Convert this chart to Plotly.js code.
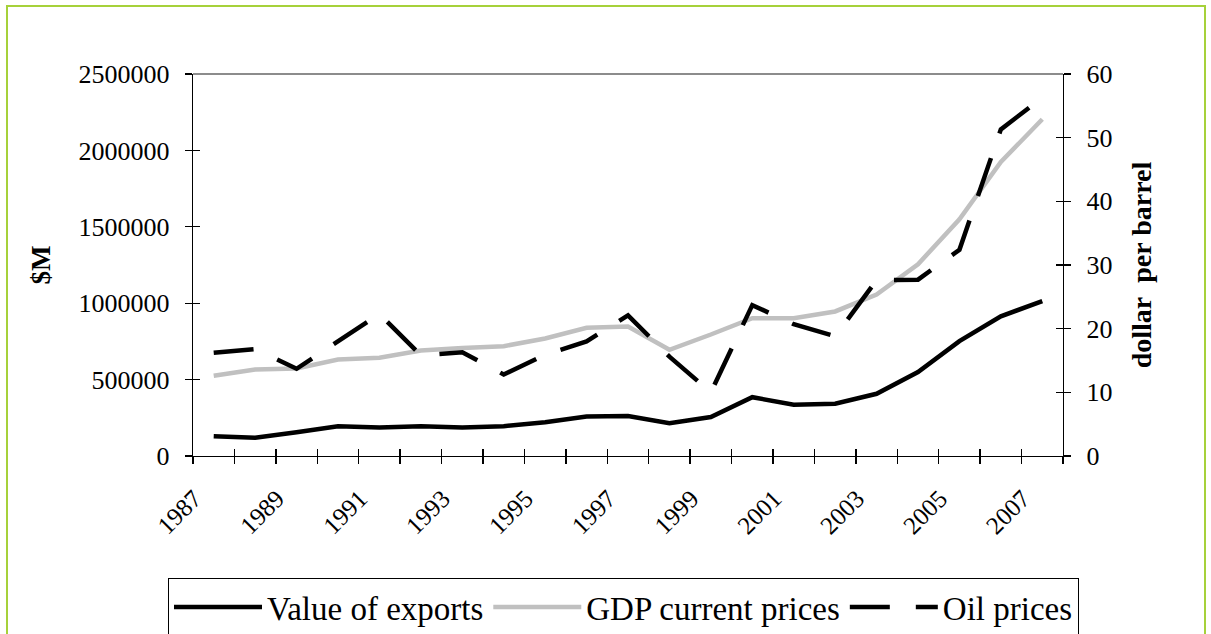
<!DOCTYPE html>
<html><head><meta charset="utf-8">
<script src="https://cdn.plot.ly/plotly-3.0.1.min.js"></script>
<style>
html,body{margin:0;padding:0;background:#fff;overflow:hidden;width:1211px;height:634px;}
#chart{position:absolute;left:0;top:0;width:1211px;height:634px;}
#frame{position:absolute;left:6px;top:5px;width:1196px;height:720px;border:2px solid #a6d13a;pointer-events:none;}
</style></head><body>
<div id="chart"></div><div id="frame"></div>
<script>
const years = [1987,1988,1989,1990,1991,1992,1993,1994,1995,1996,1997,1998,1999,2000,2001,2002,2003,2004,2005,2006,2007];
const exportsValue = [130000,119000,156000,195000,187000,195000,187000,195000,221000,258000,261000,215000,255000,385000,335000,342000,407000,549000,752000,914000,1014000];
const gdpCurrent = [525000,566000,573000,632000,643000,691000,706000,719000,769000,839000,848000,695000,795000,902000,902000,946000,1056000,1255000,1549000,1924000,2204000];
const oilPrices = [16.2,16.8,13.7,18.0,22.3,15.8,16.3,12.8,15.9,18.0,22.1,15.6,10.0,23.7,20.7,18.8,27.6,27.7,32.4,51.3,56.3];
const yearLabels = years.filter(y => y % 2 === 1);
const seriesNames = ['Value of exports', 'GDP current prices', 'Oil prices'];

const FONT = 'Liberation Serif, Times New Roman, serif';
const xRange = [years[0] - 0.5, years[years.length - 1] + 0.5];
const labelOffset = -0.47;

const traces = [
  {x: years, y: exportsValue, name: seriesNames[0], type: 'scatter', mode: 'lines',
   line: {color: '#000000', width: 4.5}, xaxis: 'x', yaxis: 'y'},
  {x: years, y: gdpCurrent, name: seriesNames[1], type: 'scatter', mode: 'lines',
   line: {color: '#c0c0c0', width: 4.5}, xaxis: 'x', yaxis: 'y'},
  {x: years, y: oilPrices, name: seriesNames[2], type: 'scatter', mode: 'lines',
   line: {color: '#000000', width: 4.5, dash: '40px,26px'}, xaxis: 'x', yaxis: 'y2'},
  {x: [null], y: [null], xaxis: 'x2', yaxis: 'y3', showlegend: false, hoverinfo: 'skip', mode: 'lines'},
  {x: [null], y: [null], xaxis: 'x3', yaxis: 'y4', showlegend: false, hoverinfo: 'skip', mode: 'lines'}
];

const tickStyle = {ticklen: 7, tickwidth: 1.3, tickcolor: '#000'};
const plotL = 193, plotR = 1063, plotT = 74, plotB = 456;

const layout = {
  width: 1211, height: 634,
  margin: {l: plotL, r: 1211 - plotR, t: plotT, b: 634 - plotB, pad: 0, autoexpand: false},
  paper_bgcolor: '#ffffff', plot_bgcolor: '#ffffff',
  showlegend: true,
  font: {family: FONT, color: '#000'},
  xaxis: Object.assign({
    range: xRange, tickmode: 'linear', tick0: xRange[0], dtick: 1,
    ticks: 'outside', showticklabels: false, showline: true, linecolor: '#000', linewidth: 1.3,
    showgrid: false, zeroline: false, fixedrange: true
  }, tickStyle),
  xaxis2: Object.assign({
    overlaying: 'x', anchor: 'y', range: xRange, tickmode: 'linear', tick0: xRange[0], dtick: 1,
    ticks: 'inside', showticklabels: false, showline: false, showgrid: false, zeroline: false
  }, tickStyle),
  xaxis3: {
    overlaying: 'x', anchor: 'y', range: xRange, tickmode: 'array',
    tickvals: yearLabels.map(y => y + labelOffset), ticktext: yearLabels.map(String),
    ticks: '', tickangle: -45, showline: false, showgrid: false, zeroline: false,
    tickfont: {family: FONT, size: 25, color: '#000'}, ticklabelstandoff: 22
  },
  yaxis: Object.assign({
    range: [0, 2500000], tickmode: 'linear', tick0: 0, dtick: 500000, tickformat: 'd',
    ticks: 'outside', showline: true, linecolor: '#000', linewidth: 1.3,
    showgrid: false, zeroline: false, fixedrange: true,
    tickfont: {family: FONT, size: 26, color: '#000'}, ticklabelstandoff: 10,
    title: {text: '<b>$M</b>', font: {family: FONT, size: 27, color: '#000'}, standoff: 20}
  }, tickStyle),
  yaxis2: Object.assign({
    overlaying: 'y', side: 'right', anchor: 'x',
    range: [0, 60], tickmode: 'linear', tick0: 0, dtick: 10,
    ticks: 'outside', showline: true, linecolor: '#000', linewidth: 1.3,
    showgrid: false, zeroline: false, fixedrange: true,
    tickfont: {family: FONT, size: 26, color: '#000'}, ticklabelstandoff: 10,
    title: {text: '<b>dollar\u00a0 per barrel</b>', font: {family: FONT, size: 28, color: '#000'}, standoff: 20}
  }, tickStyle),
  yaxis3: Object.assign({
    overlaying: 'y', side: 'left', anchor: 'x',
    range: [0, 2500000], tickmode: 'linear', tick0: 0, dtick: 500000,
    ticks: 'inside', showticklabels: false, showline: false, showgrid: false, zeroline: false
  }, tickStyle),
  yaxis4: Object.assign({
    overlaying: 'y', side: 'right', anchor: 'x',
    range: [0, 60], tickmode: 'linear', tick0: 0, dtick: 10,
    ticks: 'inside', showticklabels: false, showline: false, showgrid: false, zeroline: false
  }, tickStyle),
  shapes: [
    {type: 'line', xref: 'paper', yref: 'paper', x0: 0, x1: 1, y0: 1, y1: 1,
     line: {color: '#8c8c8c', width: 2}, layer: 'below'}
  ],
  legend: {
    orientation: 'h', xref: 'paper', yref: 'paper',
    x: (168 - plotL) / (plotR - plotL), y: -(578 - plotB) / (plotB - plotT),
    xanchor: 'left', yanchor: 'top',
    bordercolor: '#000', borderwidth: 1, bgcolor: '#ffffff',
    font: {family: FONT, size: 33, color: '#000'}, itemwidth: 88, traceorder: 'normal'
  }
};

Plotly.newPlot('chart', traces, layout, {displayModeBar: false, staticPlot: true});
</script>
</body></html>
